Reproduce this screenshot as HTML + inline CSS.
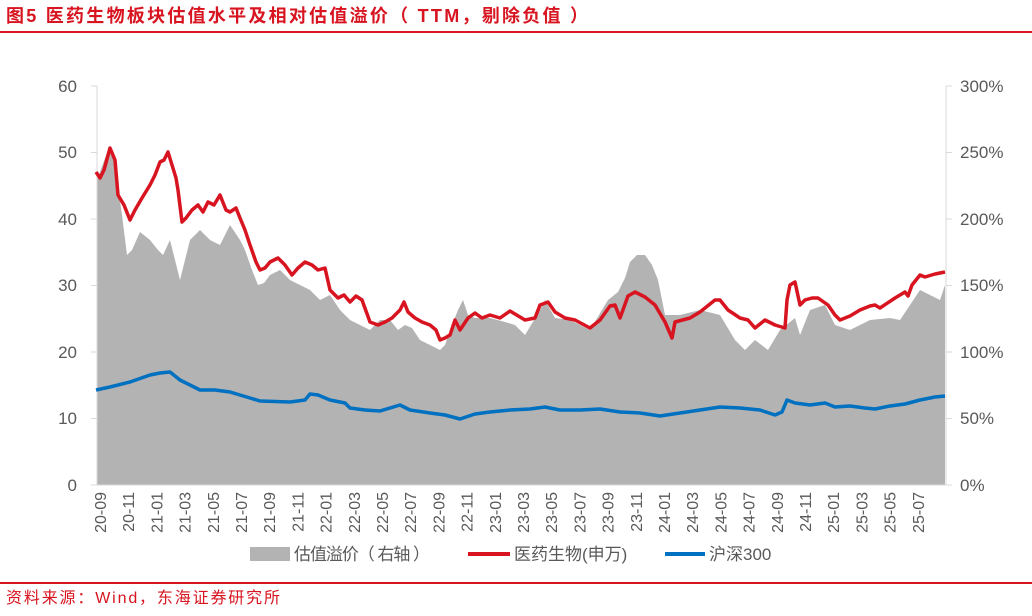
<!DOCTYPE html>
<html><head><meta charset="utf-8"><style>
body{margin:0;width:1032px;height:611px;background:#fff;overflow:hidden;font-family:"Liberation Sans","Noto Sans CJK SC",sans-serif}
</style></head><body>
<svg width="1032" height="611" xmlns="http://www.w3.org/2000/svg" font-family="Liberation Sans, Noto Sans CJK SC, sans-serif">
<text x="6" y="22" font-size="18" font-weight="bold" fill="#d7141f" textLength="582" lengthAdjust="spacing">图5  医药生物板块估值水平及相对估值溢价（ TTM，剔除负值 ）</text>
<line x1="0" y1="32" x2="1032" y2="32" stroke="#d7141f" stroke-width="2"/>
<polygon fill="#b3b3b3" points="97,485 97,180 108,150 114,160 122,215 127,255 132,250 140,232 150,240 158,250 163,255 170,240 180,280 185,260 190,240 200,230 210,240 220,245 230,225 240,240 245,250 252,270 258,285 264,283 270,275 280,270 290,280 300,285 310,290 320,300 330,295 340,310 350,320 360,325 370,330 380,320 390,320 398,330 405,325 412,328 420,340 430,345 440,350 445,345 452,325 458,310 463,300 468,315 475,318 490,318 505,322 515,325 525,335 540,310 545,300 555,318 570,320 590,330 608,300 618,292 625,278 630,262 637,255 645,255 652,265 658,280 665,315 680,315 700,310 720,315 735,340 745,350 755,340 768,350 780,330 795,318 800,335 810,310 825,305 835,325 850,330 870,320 890,318 900,320 910,305 920,290 930,295 940,300 945,285 945,485"/>
<g stroke="#d9d9d9" stroke-width="1">
<line x1="97" y1="86" x2="97" y2="485"/><line x1="946" y1="86" x2="946" y2="485"/><line x1="97" y1="485" x2="946" y2="485"/>
<line x1="91" y1="86" x2="97" y2="86"/><line x1="91" y1="152.5" x2="97" y2="152.5"/><line x1="91" y1="219" x2="97" y2="219"/><line x1="91" y1="285.5" x2="97" y2="285.5"/><line x1="91" y1="352" x2="97" y2="352"/><line x1="91" y1="418.5" x2="97" y2="418.5"/><line x1="91" y1="485" x2="97" y2="485"/>
<line x1="946" y1="86" x2="952" y2="86"/><line x1="946" y1="152.5" x2="952" y2="152.5"/><line x1="946" y1="219" x2="952" y2="219"/><line x1="946" y1="285.5" x2="952" y2="285.5"/><line x1="946" y1="352" x2="952" y2="352"/><line x1="946" y1="418.5" x2="952" y2="418.5"/><line x1="946" y1="485" x2="952" y2="485"/>
</g>
<polyline fill="none" stroke="#d7141f" stroke-width="3.5" stroke-linejoin="round" points="96,172 100,178 104,170 110,148 115,160 118,195 124,205 130,220 135,210 142,198 150,185 155,175 160,162 164,160 168,152 172,165 176,178 178,190 182,222 186,218 192,210 198,205 203,212 208,202 214,205 220,195 226,210 230,212 236,208 240,218 245,230 250,245 256,262 260,270 265,268 270,262 278,258 285,265 292,275 298,268 305,262 312,265 318,270 325,268 330,290 338,298 344,295 350,302 356,296 362,300 370,322 378,325 385,322 392,318 400,310 404,302 408,312 415,318 422,322 430,325 436,330 440,340 445,338 450,335 455,320 460,330 468,318 475,313 482,318 490,315 500,318 510,311 525,320 535,318 540,305 548,302 555,312 565,318 575,320 590,328 600,320 610,306 615,305 620,318 628,296 635,292 645,297 655,305 665,322 672,338 675,322 690,318 700,312 715,300 720,300 728,310 740,318 748,320 755,328 765,320 775,325 785,328 787,300 790,285 795,282 800,305 805,300 812,298 818,298 828,305 835,315 840,320 850,316 860,310 870,306 875,305 880,308 895,298 905,292 908,296 912,285 920,275 925,277 935,274 945,272"/>
<polyline fill="none" stroke="#0070c0" stroke-width="3.5" stroke-linejoin="round" points="96,390 110,387 130,382 150,375 160,373 170,372 180,380 200,390 215,390 230,392 250,398 260,401 290,402 305,400 310,394 318,395 330,400 345,403 350,408 365,410 380,411 400,405 410,410 430,413 445,415 460,419 475,414 490,412 510,410 530,409 545,407 560,410 580,410 600,409 620,412 640,413 660,416 680,413 700,410 720,407 740,408 760,410 775,415 782,412 787,400 795,403 810,405 825,403 835,407 850,406 865,408 875,409 890,406 905,404 920,400 935,397 945,396"/>
<g font-size="17" fill="#595959" text-anchor="end">
<text x="77" y="92">60</text><text x="77" y="158">50</text><text x="77" y="225">40</text><text x="77" y="291">30</text><text x="77" y="358">20</text><text x="77" y="424">10</text><text x="77" y="491">0</text>
</g>
<g font-size="17" fill="#595959">
<text x="960" y="92">300%</text><text x="960" y="158">250%</text><text x="960" y="225">200%</text><text x="960" y="291">150%</text><text x="960" y="358">100%</text><text x="960" y="424">50%</text><text x="960" y="491">0%</text>
</g>
<g font-size="16" fill="#595959" text-anchor="end">
<text transform="translate(106,492) rotate(-90)">20-09</text>
<text transform="translate(134.2,492) rotate(-90)">20-11</text>
<text transform="translate(162.4,492) rotate(-90)">21-01</text>
<text transform="translate(190.6,492) rotate(-90)">21-03</text>
<text transform="translate(218.8,492) rotate(-90)">21-05</text>
<text transform="translate(247,492) rotate(-90)">21-07</text>
<text transform="translate(275.2,492) rotate(-90)">21-09</text>
<text transform="translate(303.4,492) rotate(-90)">21-11</text>
<text transform="translate(331.6,492) rotate(-90)">22-01</text>
<text transform="translate(359.8,492) rotate(-90)">22-03</text>
<text transform="translate(388,492) rotate(-90)">22-05</text>
<text transform="translate(416.2,492) rotate(-90)">22-07</text>
<text transform="translate(444.4,492) rotate(-90)">22-09</text>
<text transform="translate(472.6,492) rotate(-90)">22-11</text>
<text transform="translate(500.8,492) rotate(-90)">23-01</text>
<text transform="translate(529,492) rotate(-90)">23-03</text>
<text transform="translate(557.2,492) rotate(-90)">23-05</text>
<text transform="translate(585.4,492) rotate(-90)">23-07</text>
<text transform="translate(613.6,492) rotate(-90)">23-09</text>
<text transform="translate(641.8,492) rotate(-90)">23-11</text>
<text transform="translate(670,492) rotate(-90)">24-01</text>
<text transform="translate(698.2,492) rotate(-90)">24-03</text>
<text transform="translate(726.4,492) rotate(-90)">24-05</text>
<text transform="translate(754.6,492) rotate(-90)">24-07</text>
<text transform="translate(782.8,492) rotate(-90)">24-09</text>
<text transform="translate(811,492) rotate(-90)">24-11</text>
<text transform="translate(839.2,492) rotate(-90)">25-01</text>
<text transform="translate(867.4,492) rotate(-90)">25-03</text>
<text transform="translate(895.6,492) rotate(-90)">25-05</text>
<text transform="translate(923.8,492) rotate(-90)">25-07</text>
</g>
<g font-size="17" fill="#595959">
<rect x="250" y="547" width="40" height="14" fill="#b3b3b3"/><text x="294" y="560" textLength="136" lengthAdjust="spacing">估值溢价（ 右轴 ）</text>
<line x1="468" y1="554" x2="510" y2="554" stroke="#d7141f" stroke-width="4"/><text x="514" y="560">医药生物(申万)</text>
<line x1="665" y1="554" x2="705" y2="554" stroke="#0070c0" stroke-width="4"/><text x="709" y="560">沪深300</text>
</g>
<line x1="0" y1="583" x2="1032" y2="583" stroke="#d7141f" stroke-width="2"/>
<text x="6" y="603" font-size="16" fill="#d7141f" textLength="274" lengthAdjust="spacing">资料来源：Wind，东海证券研究所</text>
</svg>
</body></html>
